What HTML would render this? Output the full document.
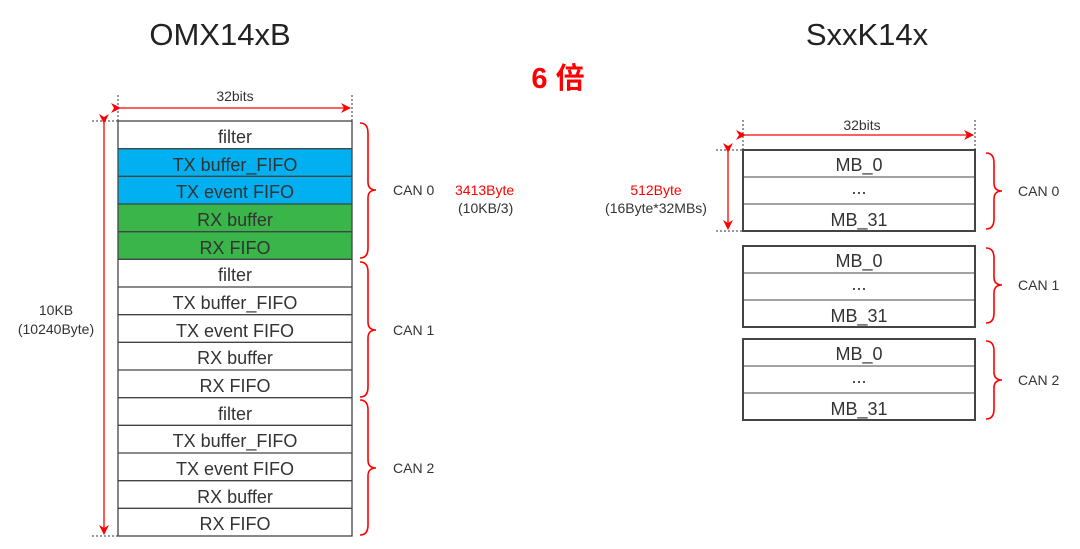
<!DOCTYPE html>
<html><head><meta charset="utf-8"><style>
html,body{margin:0;padding:0;background:#fff;}
svg{display:block;font-family:"Liberation Sans","Noto Sans CJK SC",sans-serif;}
</style></head><body>
<svg width="1080" height="549" viewBox="0 0 1080 549" xmlns="http://www.w3.org/2000/svg">
<defs>
<marker id="a" markerWidth="10" markerHeight="10" refX="9" refY="5" orient="auto" markerUnits="userSpaceOnUse"><path d="M0,0 L10,5 L0,10 L3,5 Z" fill="#f00"/></marker>
</defs>
<text x="220" y="45" font-size="31" text-anchor="middle" fill="#222">OMX14xB</text>
<text x="867" y="45" font-size="31" text-anchor="middle" fill="#222">SxxK14x</text>
<text x="558" y="88" font-size="29" font-weight="bold" text-anchor="middle" fill="#f00">6 倍</text>

<!-- left table fills -->
<rect x="118" y="148.7" width="234" height="55.3" fill="#00b0f0"/>
<rect x="118" y="204" width="234" height="55.3" fill="#39b54a"/>
<g stroke="#444" stroke-width="1.3" fill="none">
<rect x="118" y="121" width="234" height="415"/>
<line x1="118" y1="148.7" x2="352" y2="148.7"/><line x1="118" y1="176.3" x2="352" y2="176.3"/>
<line x1="118" y1="204" x2="352" y2="204"/><line x1="118" y1="231.7" x2="352" y2="231.7"/>
<line x1="118" y1="259.3" x2="352" y2="259.3"/><line x1="118" y1="287" x2="352" y2="287"/>
<line x1="118" y1="314.7" x2="352" y2="314.7"/><line x1="118" y1="342.3" x2="352" y2="342.3"/>
<line x1="118" y1="370" x2="352" y2="370"/><line x1="118" y1="397.7" x2="352" y2="397.7"/>
<line x1="118" y1="425.3" x2="352" y2="425.3"/><line x1="118" y1="453" x2="352" y2="453"/>
<line x1="118" y1="480.7" x2="352" y2="480.7"/><line x1="118" y1="508.3" x2="352" y2="508.3"/>
</g>
<g font-size="18" text-anchor="middle" fill="#333">
<text x="235" y="143">filter</text><text x="235" y="171">TX buffer_FIFO</text><text x="235" y="198">TX event FIFO</text>
<text x="235" y="226">RX buffer</text><text x="235" y="254">RX FIFO</text>
<text x="235" y="281">filter</text><text x="235" y="309">TX buffer_FIFO</text><text x="235" y="337">TX event FIFO</text>
<text x="235" y="364">RX buffer</text><text x="235" y="392">RX FIFO</text>
<text x="235" y="420">filter</text><text x="235" y="447">TX buffer_FIFO</text><text x="235" y="475">TX event FIFO</text>
<text x="235" y="503">RX buffer</text><text x="235" y="530">RX FIFO</text>
</g>
<!-- left dims -->
<g stroke="#333" stroke-width="1" stroke-dasharray="2,2">
<line x1="118" y1="95" x2="118" y2="121"/><line x1="352" y1="95" x2="352" y2="121"/>
<line x1="92" y1="121" x2="118" y2="121"/><line x1="92" y1="536" x2="118" y2="536"/>
</g>
<line x1="120" y1="108" x2="350" y2="108" stroke="#f00" stroke-width="1.3" marker-start="url(#a)" marker-end="url(#a)"/>
<text x="235" y="101" font-size="14" text-anchor="middle" fill="#333">32bits</text>
<line x1="104" y1="123" x2="104" y2="534" stroke="#f00" stroke-width="1.3" marker-start="url(#a)" marker-end="url(#a)"/>
<text x="56" y="315" font-size="14" text-anchor="middle" fill="#333">10KB</text>
<text x="56" y="334" font-size="14" text-anchor="middle" fill="#333">(10240Byte)</text>
<!-- left braces -->
<g stroke="#f00" stroke-width="1.6" fill="none">
<path d="M360,123 Q368,123 368,133 L368,182 Q368,190 376,190 Q368,190 368,198 L368,248 Q368,258 360,258"/>
<path d="M360,262 Q368,262 368,272 L368,322 Q368,330 376,330 Q368,330 368,338 L368,387 Q368,397 360,397"/>
<path d="M360,400 Q368,400 368,410 L368,460 Q368,468 376,468 Q368,468 368,476 L368,525 Q368,535 360,535"/>
</g>
<g font-size="14" fill="#333">
<text x="393" y="195">CAN 0</text><text x="393" y="335">CAN 1</text><text x="393" y="473">CAN 2</text>
</g>
<text x="455" y="195" font-size="14" fill="#f00">3413Byte</text>
<text x="458" y="213" font-size="14" fill="#333">(10KB/3)</text>

<!-- right boxes -->
<g stroke="#444" fill="none">
<rect x="743" y="150" width="232" height="81" stroke-width="2"/>
<line x1="743" y1="177" x2="975" y2="177"/><line x1="743" y1="204" x2="975" y2="204"/>
<rect x="743" y="246" width="232" height="81" stroke-width="2"/>
<line x1="743" y1="273" x2="975" y2="273"/><line x1="743" y1="300" x2="975" y2="300"/>
<rect x="743" y="339" width="232" height="81" stroke-width="2"/>
<line x1="743" y1="366" x2="975" y2="366"/><line x1="743" y1="393" x2="975" y2="393"/>
</g>
<g font-size="18" text-anchor="middle" fill="#333">
<text x="859" y="171">MB_0</text><text x="859" y="194">...</text><text x="859" y="226">MB_31</text>
<text x="859" y="267">MB_0</text><text x="859" y="290">...</text><text x="859" y="322">MB_31</text>
<text x="859" y="360">MB_0</text><text x="859" y="383">...</text><text x="859" y="415">MB_31</text>
</g>
<g stroke="#333" stroke-width="1" stroke-dasharray="2,2">
<line x1="743" y1="120" x2="743" y2="150"/><line x1="975" y1="120" x2="975" y2="150"/>
<line x1="716" y1="150" x2="743" y2="150"/><line x1="716" y1="231" x2="743" y2="231"/>
</g>
<line x1="745" y1="135" x2="973" y2="135" stroke="#f00" stroke-width="1.3" marker-start="url(#a)" marker-end="url(#a)"/>
<text x="862" y="130" font-size="14" text-anchor="middle" fill="#333">32bits</text>
<line x1="728" y1="152" x2="728" y2="229" stroke="#f00" stroke-width="1.3" marker-start="url(#a)" marker-end="url(#a)"/>
<text x="656" y="195" font-size="14" text-anchor="middle" fill="#f00">512Byte</text>
<text x="656" y="213" font-size="14" text-anchor="middle" fill="#333">(16Byte*32MBs)</text>
<g stroke="#f00" stroke-width="1.6" fill="none">
<path d="M986,153 Q994,153 994,163 L994,183 Q994,191 1002,191 Q994,191 994,199 L994,219 Q994,229 986,229"/>
<path d="M986,248 Q994,248 994,258 L994,277 Q994,285 1002,285 Q994,285 994,293 L994,313 Q994,323 986,323"/>
<path d="M986,341 Q994,341 994,351 L994,372 Q994,380 1002,380 Q994,380 994,388 L994,409 Q994,419 986,419"/>
</g>
<g font-size="14" fill="#333">
<text x="1018" y="196">CAN 0</text><text x="1018" y="290">CAN 1</text><text x="1018" y="385">CAN 2</text>
</g>
</svg>
</body></html>
